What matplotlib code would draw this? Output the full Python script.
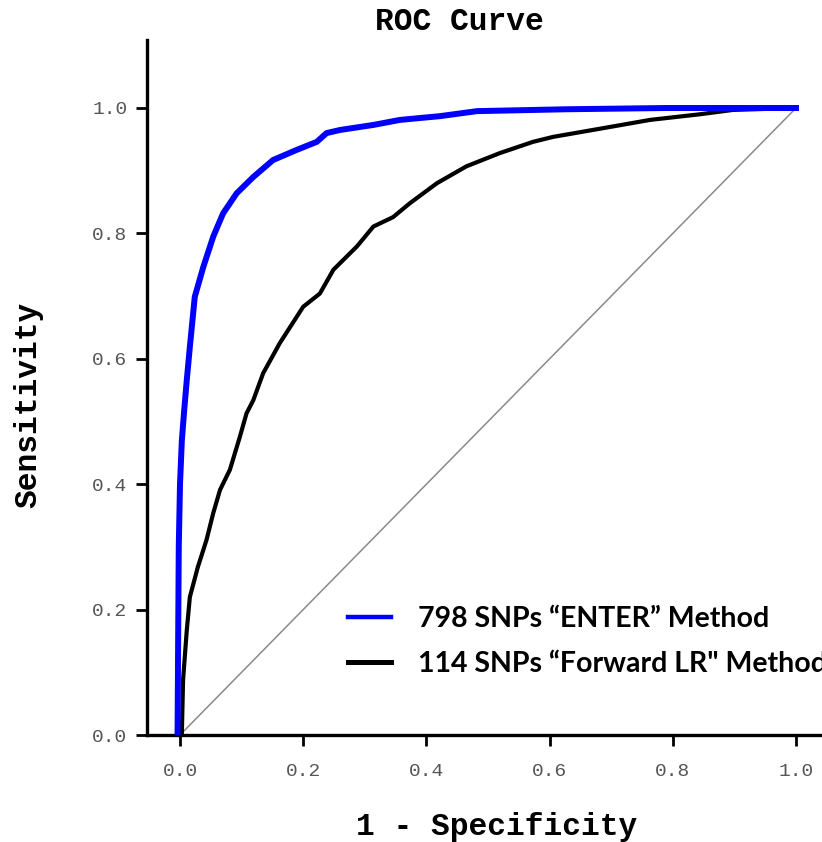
import matplotlib
matplotlib.use("Agg")
import matplotlib.pyplot as plt
from matplotlib.lines import Line2D

# ---- data ----
enter_fpr = [-0.004, -0.003, -0.002, 0.0, 0.003, 0.007, 0.011, 0.016, 0.024, 0.038, 0.054,
             0.070, 0.092, 0.119, 0.151, 0.189, 0.222, 0.238, 0.260, 0.314, 0.357, 0.422,
             0.482, 0.628, 0.79, 0.9, 1.0]
enter_tpr = [0.0, 0.15, 0.30, 0.40, 0.47, 0.52, 0.566, 0.619, 0.699, 0.747, 0.795,
             0.832, 0.864, 0.890, 0.917, 0.933, 0.946, 0.960, 0.965, 0.973, 0.981, 0.987,
             0.995, 0.998, 1.0, 1.0, 1.0]

flr_fpr = [0.0, 0.003, 0.005, 0.011, 0.016, 0.029, 0.043, 0.054, 0.065, 0.081, 0.097,
           0.108, 0.119, 0.135, 0.162, 0.200, 0.227, 0.249, 0.287, 0.314, 0.346, 0.373,
           0.417, 0.465, 0.519, 0.573, 0.606, 0.682, 0.763, 0.844, 0.898, 1.0]
flr_tpr = [0.0, 0.003, 0.088, 0.167, 0.220, 0.268, 0.311, 0.354, 0.391, 0.423, 0.475,
           0.513, 0.534, 0.577, 0.625, 0.683, 0.704, 0.742, 0.779, 0.811, 0.826, 0.848,
           0.880, 0.907, 0.928, 0.946, 0.954, 0.967, 0.981, 0.990, 0.997, 1.0]

labels = ["798 SNPs \u201cENTER\u201d Method", "114 SNPs \u201cForward LR\" Method"]
xticks = [0.0, 0.2, 0.4, 0.6, 0.8, 1.0]
yticks = [0.0, 0.2, 0.4, 0.6, 0.8, 1.0]

W, H = 822, 842
fig = plt.figure(figsize=(W / 100, H / 100), dpi=100)

# axes placement in pixels
left_px, right_px, top_px, bot_px = 147, 858, 40, 735
ax = fig.add_axes([left_px / W, 1 - bot_px / H, (right_px - left_px) / W, (bot_px - top_px) / H])

x0_px, x1_px = 180, 796
sx = (x1_px - x0_px)
xmin = (left_px - x0_px) / sx
xmax = (right_px - x0_px) / sx
y0_px, y1_px = 735, 108
sy = (y0_px - y1_px)
ymax = (y0_px - top_px) / sy
ax.set_xlim(xmin, xmax)
ax.set_ylim(0, ymax)

ax.plot([0, 1], [0, 1], color="#8a8a8a", lw=1.1, zorder=1)
ax.plot(flr_fpr, flr_tpr, color="black", lw=3.0, zorder=2, solid_joinstyle="round")
ax.plot(enter_fpr, enter_tpr, color="#0000ff", lw=4.3, zorder=3, solid_joinstyle="round")

for s in ["top", "right"]:
    ax.spines[s].set_visible(False)
for s in ["left", "bottom"]:
    ax.spines[s].set_linewidth(2.4)

mono = "Liberation Mono"
ax.set_xticks(xticks)
ax.set_yticks(yticks)
ax.set_xticklabels([f"{v:.1f}" for v in xticks], family=mono, fontsize=14, color="#555555")
ax.set_yticklabels([f"{v:.1f}" for v in yticks], family=mono, fontsize=14, color="#555555")
ax.tick_params(axis="both", direction="out", length=8, width=2, color="black")
ax.tick_params(axis="x", pad=12)
ax.tick_params(axis="y", pad=6)

fig.text(459 / W, 1 - 22 / H, "ROC Curve", family=mono, fontweight="bold", fontsize=22.5,
         ha="center", va="center")
fig.text(497 / W, 1 - 827 / H, "1 - Specificity", family=mono, fontweight="bold", fontsize=22.5,
         ha="center", va="center")
fig.text(28 / W, 1 - 405 / H, "Sensitivity", family=mono, fontweight="bold", fontsize=22.5,
         ha="center", va="center", rotation=90)

handles = [Line2D([], [], color="#0000ff", lw=3.2), Line2D([], [], color="black", lw=3.6)]
leg = fig.legend(handles, labels, loc="upper left", bbox_to_anchor=(348 / W, 1 - 606 / H),
                 frameon=False, borderpad=0, borderaxespad=0, handlelength=1.5,
                 handletextpad=0.95, labelspacing=0.66,
                 prop={"family": "Lato", "weight": "bold", "size": 20.5})

fig.savefig("out.png", dpi=100)
